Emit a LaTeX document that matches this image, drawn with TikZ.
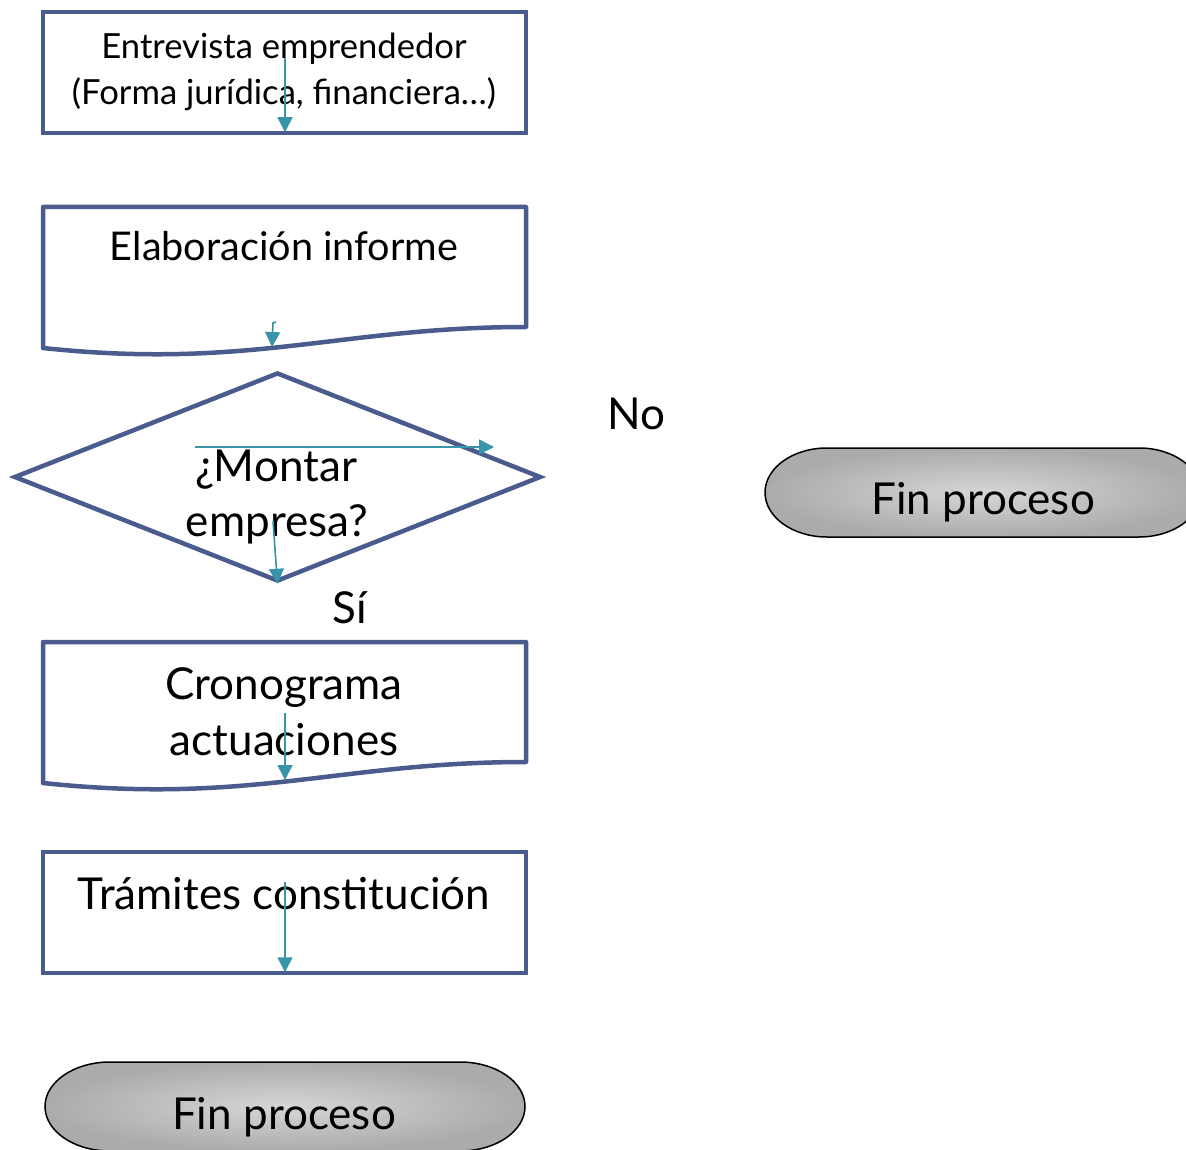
\documentclass[tikz,border=0pt]{standalone}
\usepackage{fontspec}
\setmainfont{Lato}
\usetikzlibrary{shapes.geometric,arrows.meta}
\newlength{\du}
\setlength{\du}{0.5pt}
\definecolor{boxblue}{rgb}{0.290,0.357,0.553}
\definecolor{flowteal}{rgb}{0.220,0.580,0.663}
\definecolor{finlight}{rgb}{0.840,0.840,0.840}
\definecolor{findark}{rgb}{0.670,0.670,0.670}
\tikzset{
  stepbox/.style={rectangle, draw=boxblue, line width=4.5\du, minimum width=483\du, minimum height=121\du, inner sep=0pt},
  docline/.style={draw=boxblue, line width=4.5\du, line join=round},
  decision/.style={diamond, draw=boxblue, line width=4.5\du, minimum width=527\du, minimum height=209\du, inner sep=0pt},
  flow/.style={draw=flowteal, line width=1.6\du, -{Triangle[length=7.5pt,width=7.5pt]}},
  endcap/.style={draw=black, line width=1.5\du, inner color=finlight, outer color=findark},
  smalltext/.style={inner sep=0pt, font=\fontsize{17.3pt}{23pt}\selectfont},
  midtext/.style={inner sep=0pt, font=\fontsize{19.8pt}{24pt}\selectfont},
  bigtext/.style={inner sep=0pt, font=\fontsize{22pt}{28pt}\selectfont}
}
\begin{document}
\begin{tikzpicture}
\pgftransformyscale{-1.000000}
\useasboundingbox (0\du,0\du) rectangle (1186\du,1149\du);
\clip (0\du,0\du) rectangle (1186\du,1149\du);
% entrevista
\node[stepbox] (entrevista) at (284.5\du,72.5\du){};
\node[smalltext, align=center] (entrevistatxt) at (284\du,72\du){Entrevista emprendedor\\(Forma jurídica, financiera…)};
\coordinate (entrevistaout) at (285\du,58\du);
\draw[flow, shorten >=1.5pt] (entrevistaout) -- (entrevistaout |- entrevista.south);
% informe
\draw[docline] (43\du,207\du)--(526\du,207\du)--(526\du,327\du) .. controls (340\du,327\du) and (250\du,370\du) .. (43\du,348\du)--cycle;
\node[midtext] (informe) at (284\du,246\du){Elaboración informe};
\coordinate (informeout) at (276\du,322\du);
\coordinate (informein) at (272\du,347\du);
\draw[flow] (informeout) -- (273\du,323\du) -- (informein);
% decision
\node[decision] (montar) at (277.5\du,477\du){};
\node[bigtext] (montartxt) at (276\du,470\du){¿Montar};
\node[bigtext] (empresatxt) at (277\du,524\du){empresa?};
\coordinate (noout) at (195\du,447\du);
\coordinate (noin) at (494\du,447\du);
\draw[flow] (noout) -- (noin);
\coordinate (siout) at (273\du,521\du);
\draw[flow] (siout) -- (montar.south);
\node[bigtext] (notxt) at (636\du,414\du){No};
\node[bigtext] (sitxt) at (350\du,608\du){Sí};
% fin (no)
\shadedraw[endcap] (827\du,448\du)--(1139\du,448\du) arc[start angle=-90, end angle=90, x radius=62\du, y radius=44.5\du]--(827\du,537\du) arc[start angle=90, end angle=270, x radius=62\du, y radius=44.5\du]--cycle;
\node[bigtext] (finno) at (983\du,502\du){Fin proceso};
% cronograma
\draw[docline] (43\du,642\du)--(526\du,642\du)--(526\du,762\du) .. controls (340\du,762\du) and (250\du,805\du) .. (43\du,783\du)--cycle;
\node[bigtext, align=center] (cronograma) at (284\du,712\du){Cronograma\\actuaciones};
\coordinate (cronogramaout) at (285\du,713\du);
\coordinate (cronogramain) at (285\du,780\du);
\draw[flow] (cronogramaout) -- (cronogramain);
% tramites
\node[stepbox] (tramites) at (284.5\du,912.5\du){};
\node[bigtext] (tramitestxt) at (284\du,894\du){Trámites constitución};
\coordinate (tramitesout) at (285\du,882\du);
\draw[flow, shorten >=1.5pt] (tramitesout) -- (tramitesout |- tramites.south);
% fin (si)
\shadedraw[endcap] (110\du,1062\du)--(460\du,1062\du) arc[start angle=-90, end angle=90, x radius=65\du, y radius=44.5\du]--(110\du,1151\du) arc[start angle=90, end angle=270, x radius=65\du, y radius=44.5\du]--cycle;
\node[bigtext] (finsi) at (284\du,1117\du){Fin proceso};
\end{tikzpicture}
\end{document}
